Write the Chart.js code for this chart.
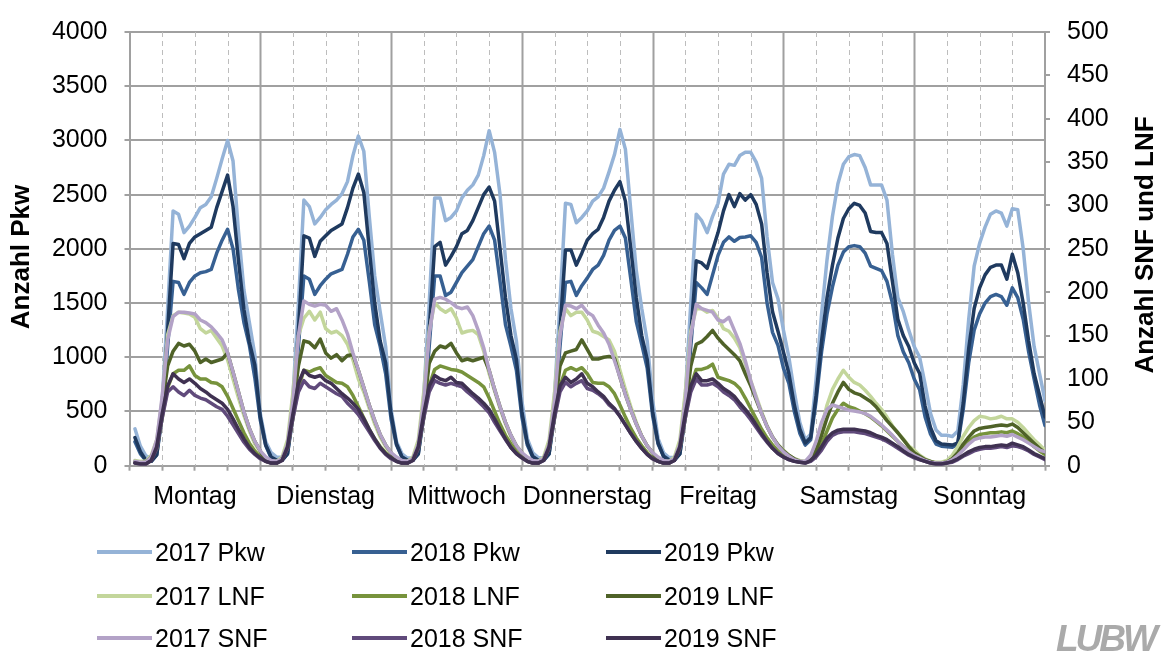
<!DOCTYPE html>
<html>
<head>
<meta charset="utf-8">
<script src="https://cdn.jsdelivr.net/npm/chart.js@4.4.1/dist/chart.umd.min.js"></script>
<style>
  body { margin: 0; background: #fff; font-family: "Liberation Sans", Arial, sans-serif; }
  #wrap { position: relative; width: 1164px; height: 660px; overflow: hidden; }
  .leg { position: absolute; font-size: 25px; line-height: 30px; color: #000; white-space: nowrap; }
  .leg i { display: inline-block; width: 55px; height: 4px; margin-right: 3px; vertical-align: middle; position: relative; top: -2px; }
  #logo { position: absolute; left: 1056px; top: 618px; font: italic bold 37px "Liberation Sans", Arial, sans-serif; letter-spacing: -3px; color: #aaaaaa; }
</style>
</head>
<body>
<div id="wrap">
  <canvas id="chart" width="1164" height="660"></canvas>
  <div id="legend"></div>
  <div id="logo">LUBW</div>
</div>
<script>
// hourly values, one line per day (Mo..So)
const days = ['Montag', 'Dienstag', 'Mittwoch', 'Donnerstag', 'Freitag', 'Samstag', 'Sonntag'];

const pkw2017 = [
  340,180,90,70,130,600,1450,2350,2320,2150,2210,2290,2380,2410,2480,2650,2830,3000,2810,2160,1620,1320,1020,480,
  220,120,80,75,150,650,1500,2450,2390,2230,2290,2360,2410,2450,2510,2620,2860,3040,2900,2300,1750,1420,1100,520,
  220,110,70,70,150,650,1500,2470,2470,2260,2290,2350,2470,2540,2590,2680,2860,3090,2890,2500,1900,1450,1150,600,
  250,120,75,70,150,650,1500,2420,2410,2240,2290,2350,2440,2480,2560,2710,2870,3100,2920,2350,1800,1450,1150,600,
  250,120,75,75,150,650,1500,2320,2260,2150,2300,2420,2690,2780,2770,2860,2890,2890,2800,2650,2110,1690,1540,1250,
  1000,680,400,240,290,800,1400,1900,2300,2600,2780,2850,2870,2860,2750,2590,2590,2590,2450,1950,1550,1420,1250,1100,
  1000,750,480,330,280,280,270,320,750,1350,1840,2050,2200,2320,2350,2330,2210,2370,2360,2000,1500,1100,850,600
];
const pkw2018 = [
  220,110,50,40,100,450,1100,1700,1690,1580,1690,1750,1780,1790,1810,1960,2080,2180,2000,1620,1320,1110,810,420,
  185,70,50,50,110,450,1100,1750,1720,1580,1660,1720,1770,1790,1810,1950,2110,2180,2080,1700,1300,1100,850,430,
  190,80,50,50,110,450,1100,1750,1750,1570,1600,1690,1780,1840,1900,2020,2140,2210,2080,1700,1300,1100,880,450,
  190,80,50,50,110,450,1100,1690,1700,1570,1660,1730,1810,1850,1940,2080,2170,2210,2100,1720,1330,1120,900,460,
  200,90,55,55,110,450,1100,1690,1640,1580,1760,1940,2060,2110,2070,2105,2110,2120,2060,1920,1500,1230,1110,900,
  760,500,300,190,240,600,1050,1400,1650,1850,1970,2020,2030,2020,1960,1840,1820,1800,1700,1500,1200,1050,950,800,
  700,450,290,200,180,175,170,200,520,950,1250,1400,1500,1560,1580,1560,1480,1640,1550,1350,1050,800,560,370
];
const pkw2019 = [
  260,130,50,40,100,500,1250,2050,2040,1910,2050,2110,2140,2170,2200,2380,2530,2680,2390,1890,1440,1140,930,450,
  190,80,50,50,110,500,1250,2120,2100,1930,2070,2120,2170,2200,2230,2380,2560,2690,2520,2000,1500,1150,950,480,
  200,80,50,50,110,500,1250,2020,2060,1850,1930,2020,2140,2170,2260,2380,2500,2570,2440,2000,1550,1200,980,500,
  210,85,50,50,110,500,1250,1990,1990,1850,1960,2080,2140,2180,2290,2440,2540,2620,2440,2000,1550,1200,980,500,
  210,85,50,50,110,500,1200,1890,1870,1820,1990,2150,2350,2500,2390,2510,2450,2500,2410,2230,1780,1420,1240,1050,
  850,560,340,210,260,650,1150,1550,1850,2100,2280,2370,2420,2400,2330,2160,2150,2150,2050,1700,1350,1200,1100,950,
  850,550,350,230,200,195,190,210,580,1080,1450,1640,1760,1830,1850,1850,1720,1950,1780,1500,1150,850,650,450
];
const lnf2017 = [
  6,5,5,12,30,76,151,173,177,176,175,171,158,153,156,147,138,122,100,78,58,40,25,16,
  9,5,5,10,30,85,150,170,178,168,177,158,153,155,150,140,122,100,85,66,48,33,22,14,
  9,5,5,10,30,85,155,188,181,177,181,170,153,155,156,151,132,106,86,66,48,33,22,14,
  9,5,5,10,30,85,155,181,173,177,177,168,155,153,149,145,132,110,88,68,50,34,23,15,
  9,5,5,10,30,85,155,181,181,177,179,170,158,155,147,136,117,98,80,62,46,33,24,18,
  12,8,6,5,10,25,45,70,88,100,110,102,96,93,87,80,72,65,56,46,38,31,23,18,
  12,8,5,4,4,6,12,22,34,44,52,57,56,54,55,57,54,54,50,44,37,30,24,18
];
const lnf2018 = [
  4,3,3,8,20,55,90,106,110,110,115,104,100,100,96,95,91,80,66,52,38,26,17,10,
  6,4,3,8,20,55,90,110,108,111,113,104,100,96,95,91,81,68,55,42,31,22,15,9,
  6,4,3,8,20,55,92,111,115,113,111,110,108,104,100,96,91,78,63,48,35,25,16,10,
  6,4,3,8,20,55,92,110,113,110,113,106,96,95,95,91,83,70,56,43,32,23,15,9,
  6,4,3,8,20,55,92,111,111,113,117,102,100,98,95,89,78,66,54,42,32,24,17,12,
  8,6,4,4,6,14,25,40,55,65,72,68,66,63,60,56,51,46,40,34,28,22,17,12,
  9,6,4,3,3,4,8,14,22,28,33,36,37,38,38,39,38,40,37,33,28,22,17,13
];
const lnf2019 = [
  4,3,4,10,25,70,115,132,141,138,140,132,119,123,119,121,123,130,108,85,62,43,28,17,
  5,3,3,8,22,65,115,144,142,136,146,130,124,128,121,127,128,110,90,70,52,36,24,15,
  5,3,3,8,22,65,118,132,138,136,141,130,121,123,121,123,125,110,88,68,50,35,23,15,
  5,3,3,8,22,65,115,130,132,134,145,134,123,123,125,126,124,102,82,64,48,34,23,15,
  5,3,3,8,22,65,115,140,143,149,156,147,140,134,128,121,106,92,76,60,45,33,24,17,
  12,8,5,4,8,18,35,55,72,85,96,88,84,82,78,74,68,60,52,45,38,30,22,15,
  11,7,5,3,3,4,8,15,25,33,40,43,44,45,46,47,46,48,44,38,32,26,20,15
];
const snf2017 = [
  5,4,4,10,30,80,145,172,177,177,176,175,168,165,160,153,145,130,108,85,62,43,28,17,
  10,6,5,8,25,75,150,190,186,184,186,185,178,181,168,152,130,110,90,70,52,36,24,15,
  10,6,5,8,25,75,152,192,194,192,188,183,181,183,173,156,136,110,88,68,50,35,23,15,
  10,6,5,8,25,75,150,185,184,181,185,177,173,162,153,140,121,102,82,64,48,34,23,15,
  10,6,5,8,25,75,150,186,181,179,177,168,166,171,156,141,121,98,78,60,45,33,23,16,
  11,7,5,5,12,28,50,65,70,68,66,64,63,62,60,57,52,47,41,35,28,22,16,12,
  9,6,4,3,3,4,7,12,18,25,30,32,33,33,34,35,34,36,33,30,26,22,18,16
];
const snf2018 = [
  3,2,2,6,20,55,85,91,85,81,87,81,78,76,72,68,65,57,47,37,27,19,13,8,
  5,3,3,6,20,55,85,98,91,89,95,91,87,83,80,72,66,59,49,39,29,20,13,8,
  5,3,3,6,20,55,85,98,95,93,95,93,91,85,80,74,68,61,50,40,30,21,14,9,
  5,3,3,6,20,55,85,96,91,95,98,89,87,83,78,70,65,57,47,37,28,20,13,8,
  5,3,3,6,20,55,85,100,93,93,95,91,85,81,76,68,61,53,44,35,27,20,14,10,
  7,5,4,3,5,10,18,28,35,38,39,39,39,38,37,35,33,31,28,24,20,16,12,9,
  7,5,3,2,2,3,4,7,11,14,17,19,20,20,21,22,21,23,22,20,17,13,10,7
];
const snf2019 = [
  3,2,2,6,22,60,92,106,100,96,100,95,89,85,80,76,72,65,54,42,31,21,14,9,
  5,3,3,6,22,60,95,110,104,102,104,98,95,89,83,78,72,65,54,42,31,21,14,9,
  5,3,3,6,22,60,92,104,100,98,102,96,95,89,83,78,72,65,54,42,31,21,14,9,
  5,3,3,6,22,60,92,102,96,100,106,95,91,85,80,72,66,57,47,37,28,20,13,8,
  5,3,3,6,22,60,92,106,98,98,100,95,89,85,80,72,65,57,47,37,28,20,14,10,
  7,5,4,3,6,12,22,32,38,41,42,42,42,41,40,38,35,33,30,26,22,17,13,10,
  7,5,3,2,2,3,5,8,12,16,19,21,22,22,23,24,23,26,24,22,18,14,11,8
];

const seriesNames = ['2017 Pkw', '2018 Pkw', '2019 Pkw', '2017 LNF', '2018 LNF', '2019 LNF', '2017 SNF', '2018 SNF', '2019 SNF'];
const seriesData = [pkw2017, pkw2018, pkw2019, lnf2017, lnf2018, lnf2019, snf2017, snf2018, snf2019];
const colors = ['#95b3d7', '#376092', '#1f3a5f', '#c3d69b', '#77933c', '#4f6228', '#b3a2c7', '#604a7b', '#3f3151'];

const FONT = '"Liberation Sans", Arial, sans-serif';
const gridGray = '#a0a0a0';

const datasets = seriesData.map((vals, i) => ({
  label: seriesNames[i],
  data: vals.map((v, h) => ({ x: h + 1, y: v })),
  yAxisID: i < 3 ? 'y' : 'y2',
  borderColor: colors[i],
  backgroundColor: colors[i],
  borderWidth: 3.5,
  pointRadius: 0,
  tension: 0,
  borderJoinStyle: 'round',
  borderCapStyle: 'round',
  order: 8 - i   // later series on top, like the original
}));

// vertical grid: solid at day borders, dashed every 6 hours
const dayGrid = {
  id: 'dayGrid',
  beforeDatasetsDraw(chart) {
    const { ctx, chartArea: a, scales: { x } } = chart;
    ctx.save();
    for (let v = 6; v < 168; v += 6) {
      const px = Math.round(x.getPixelForValue(v)) + 0.5;
      ctx.beginPath();
      if (v % 24 === 0) {
        ctx.setLineDash([]);
        ctx.strokeStyle = gridGray;
        ctx.lineWidth = 2;
      } else {
        ctx.setLineDash([5, 4]);
        ctx.strokeStyle = '#bdbdbd';
        ctx.lineWidth = 1;
      }
      ctx.moveTo(px, a.top);
      ctx.lineTo(px, a.bottom);
      ctx.stroke();
    }
    ctx.restore();
  }
};

// both axis titles read bottom-to-top
const axisTitles = {
  id: 'axisTitles',
  afterDraw(chart) {
    const { ctx } = chart;
    const put = (text, x, y) => {
      ctx.save();
      ctx.font = 'bold 26px ' + FONT;
      ctx.fillStyle = '#000';
      ctx.textAlign = 'center';
      ctx.textBaseline = 'middle';
      ctx.translate(x, y);
      ctx.rotate(-Math.PI / 2);
      ctx.fillText(text, 0, 0);
      ctx.restore();
    };
    put('Anzahl Pkw', 22, 257);
    put('Anzahl SNF und LNF', 1146, 245);
  }
};

new Chart(document.getElementById('chart'), {
  type: 'line',
  data: { datasets },
  options: {
    responsive: false,
    animation: false,
    devicePixelRatio: 1,
    layout: { padding: { top: 22, bottom: 140, left: 0, right: 0 } },
    plugins: { legend: { display: false }, tooltip: { enabled: false } },
    scales: {
      x: {
        type: 'linear',
        min: 0,
        max: 168,
        afterFit: s => { s.height = 54.3; },
        afterBuildTicks: s => {
          s.ticks = [];
          for (let v = 0; v <= 168; v += 6) s.ticks.push({ value: v });
        },
        grid: { drawOnChartArea: false, drawTicks: true, tickLength: 5, tickColor: gridGray, tickWidth: 2 },
        border: { display: true, color: gridGray, width: 2 },
        ticks: {
          autoSkip: false,
          maxRotation: 0,
          padding: 11,
          color: '#000',
          font: { size: 25, family: FONT },
          callback: v => (v % 24 === 12 ? days[(v - 12) / 24] : '')
        }
      },
      y: {
        position: 'left',
        min: 0,
        max: 4000,
        afterFit: s => { s.width = 129.5; },
        grid: { color: gridGray, lineWidth: 2, tickLength: 5 },
        border: { display: true, color: gridGray, width: 2 },
        ticks: { stepSize: 500, padding: 17, color: '#000', font: { size: 25, family: FONT }, callback: v => String(v) }
      },
      y2: {
        position: 'right',
        min: 0,
        max: 500,
        afterFit: s => { s.width = 119; },
        grid: { drawOnChartArea: false, color: gridGray, lineWidth: 2, tickLength: 5 },
        border: { display: true, color: gridGray, width: 2 },
        ticks: { stepSize: 50, padding: 17, color: '#000', font: { size: 25, family: FONT }, callback: v => String(v) }
      }
    }
  },
  plugins: [dayGrid, axisTitles]
});

// legend in three columns, same order as the original
const legCols = [97, 352, 606];
const legRows = [552, 596, 638];
const legend = document.getElementById('legend');
seriesNames.forEach((name, i) => {
  const d = document.createElement('div');
  d.className = 'leg';
  d.style.left = legCols[i % 3] + 'px';
  d.style.top = (legRows[Math.floor(i / 3)] - 15) + 'px';
  d.innerHTML = '<i style="background:' + colors[i] + '"></i>' + name;
  legend.appendChild(d);
});
</script>
</body>
</html>
